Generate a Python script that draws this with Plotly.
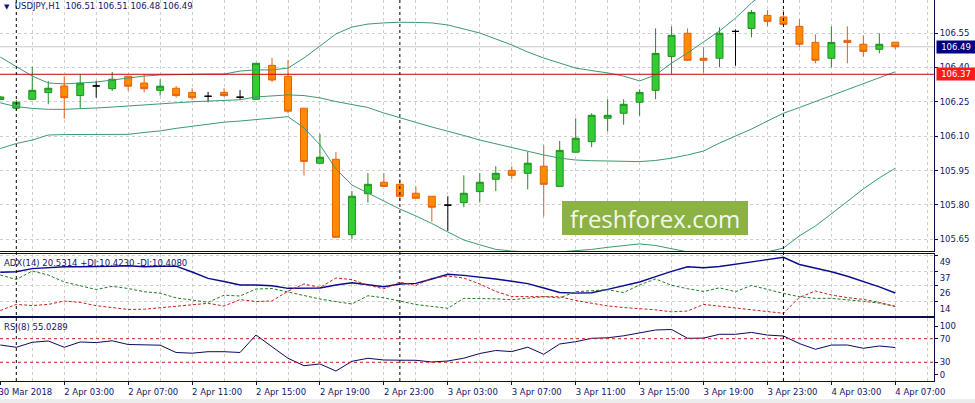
"""
    USDJPY H1 chart: candles + Bollinger bands, ADX(14) and RSI(8) panes
"""
import plotly.graph_objects as go
from plotly.subplots import make_subplots

# ---- data (hourly bars, 30 Mar 2018 23:00 -> 4 Apr 2018 07:00) ----
bar_index = list(range(57))

opens = [106.260, 106.222, 106.261, 106.290, 106.319, 106.277, 106.319, 106.307, 106.361, 106.332,
         106.300, 106.309, 106.291, 106.274, 106.291, 106.270, 106.261, 106.409, 106.361, 106.222,
         105.982, 105.999, 105.670, 105.849, 105.899, 105.890, 105.851, 105.838, 105.799, 105.810,
         105.858, 105.912, 105.951, 105.938, 105.969, 105.881, 106.030, 106.076, 106.178, 106.200,
         106.248, 106.300, 106.448, 106.549, 106.440, 106.440, 106.557, 106.570, 106.627, 106.620,
         106.579, 106.509, 106.440, 106.518, 106.501, 106.479, 106.510]
highs = [106.275, 106.258, 106.403, 106.341, 106.362, 106.370, 106.341, 106.380, 106.362, 106.371,
         106.348, 106.319, 106.309, 106.293, 106.309, 106.301, 106.419, 106.441, 106.432, 106.223,
         106.110, 106.031, 105.861, 105.939, 105.939, 105.912, 105.881, 105.839, 105.838, 105.929,
         105.939, 105.969, 105.969, 106.031, 106.060, 106.079, 106.178, 106.200, 106.261, 106.261,
         106.304, 106.570, 106.579, 106.570, 106.488, 106.575, 106.566, 106.650, 106.650, 106.650,
         106.610, 106.544, 106.579, 106.579, 106.540, 106.549, 106.510]
lows = [106.258, 106.210, 106.259, 106.239, 106.176, 106.222, 106.268, 106.297, 106.298, 106.291,
        106.277, 106.268, 106.258, 106.248, 106.272, 106.259, 106.259, 106.336, 106.200, 105.929,
        105.981, 105.658, 105.650, 105.810, 105.880, 105.817, 105.828, 105.727, 105.687, 105.790,
        105.810, 105.860, 105.912, 105.868, 105.749, 105.880, 106.029, 106.052, 106.120, 106.150,
        106.189, 106.261, 106.373, 106.430, 106.377, 106.400, 106.407, 106.531, 106.579, 106.587,
        106.488, 106.418, 106.400, 106.418, 106.447, 106.461, 106.480]
closes = [106.271, 106.248, 106.300, 106.309, 106.268, 106.331, 106.319, 106.348, 106.318, 106.307,
          106.318, 106.277, 106.268, 106.274, 106.277, 106.270, 106.418, 106.345, 106.209, 105.990,
          106.008, 105.659, 105.838, 105.890, 105.881, 105.838, 105.829, 105.790, 105.799, 105.851,
          105.899, 105.938, 105.929, 105.982, 105.890, 106.038, 106.091, 106.191, 106.191, 106.239,
          106.291, 106.461, 106.540, 106.431, 106.431, 106.549, 106.557, 106.640, 106.601, 106.588,
          106.501, 106.431, 106.509, 106.509, 106.470, 106.501, 106.490]

bb_upper = [106.445, 106.402, 106.362, 106.332, 106.328, 106.332, 106.336, 106.345, 106.354, 106.362,
            106.367, 106.369, 106.371, 106.371, 106.371, 106.384, 106.389, 106.389, 106.397, 106.441,
            106.493, 106.546, 106.576, 106.589, 106.594, 106.597, 106.596, 106.594, 106.585, 106.567,
            106.550, 106.524, 106.498, 106.467, 106.441, 106.419, 106.397, 106.386, 106.376, 106.362,
            106.341, 106.367, 106.419, 106.463, 106.511, 106.559, 106.615, 106.681, 106.738, 106.787,
            106.786, 106.794, 106.790, 106.786, 106.790, 106.794, 106.803]
bb_middle = [106.245, 106.229, 106.221, 106.217, 106.217, 106.219, 106.223, 106.227, 106.232, 106.236,
             106.240, 106.245, 106.250, 106.253, 106.256, 106.259, 106.271, 106.277, 106.280, 106.277,
             106.267, 106.251, 106.238, 106.225, 106.201, 106.179, 106.160, 106.140, 106.123, 106.103,
             106.083, 106.066, 106.049, 106.032, 106.018, 106.004, 105.996, 105.993, 105.992, 105.990,
             105.989, 105.994, 106.004, 106.018, 106.035, 106.070, 106.101, 106.131, 106.166, 106.200,
             106.225, 106.251, 106.275, 106.301, 106.330, 106.356, 106.381]
bb_lower = [106.046, 106.068, 106.083, 106.105, 106.107, 106.107, 106.107, 106.107, 106.108, 106.116,
            106.123, 106.134, 106.144, 106.153, 106.161, 106.166, 106.173, 106.179, 106.185, 106.136,
            106.062, 105.957, 105.887, 105.852, 105.817, 105.782, 105.752, 105.719, 105.682, 105.647,
            105.626, 105.606, 105.599, 105.595, 105.591, 105.595, 105.599, 105.606, 105.615, 105.621,
            105.630, 105.623, 105.608, 105.595, 105.586, 105.582, 105.582, 105.586, 105.595, 105.612,
            105.665, 105.708, 105.761, 105.817, 105.870, 105.918, 105.960]

adx = [36.08, 36.45, 38.86, 39.54, 40.21, 40.29, 40.29, 40.59, 41.04, 40.29,
       40.66, 40.66, 36.30, 31.56, 29.16, 26.53, 26.53, 26.00, 24.04, 24.04,
       24.27, 26.53, 28.26, 26.75, 25.25, 27.28, 27.73, 31.04, 34.57, 33.75,
       32.54, 31.04, 29.31, 27.58, 24.27, 20.89, 20.44, 20.74, 23.29, 26.00,
       28.78, 32.84, 36.83, 40.21, 39.54, 40.44, 42.17, 43.97, 45.85, 47.36,
       41.94, 39.31, 36.53, 33.14, 29.16, 25.10, 20.5314]
plus_di = [34.05, 30.66, 37.05, 34.05, 28.78, 25.77, 23.14, 25.55, 23.89, 21.49,
           20.36, 16.83, 15.25, 13.52, 18.86, 18.25, 23.52, 23.89, 21.26, 18.63,
           16.00, 14.04, 12.24, 18.48, 16.90, 14.49, 11.86, 10.43, 9.00, 16.52,
           16.52, 16.15, 15.47, 16.68, 17.73, 16.83, 21.49, 22.24, 22.99, 20.89,
           26.53, 31.11, 26.30, 23.74, 21.64, 24.42, 21.49, 26.23, 22.99, 20.21,
           17.73, 16.52, 16.52, 15.55, 14.27, 12.92, 10.4230]
minus_di = [7.35, 11.94, 11.11, 11.94, 14.49, 13.44, 10.96, 9.61, 8.18, 8.33,
            9.38, 10.36, 11.56, 12.76, 10.73, 15.55, 14.12, 14.57, 21.94, 27.28,
            24.65, 31.79, 30.59, 26.38, 23.67, 28.71, 26.15, 31.64, 33.22, 31.79,
            27.28, 21.71, 17.88, 17.73, 17.73, 17.73, 14.87, 12.84, 10.81, 9.61,
            8.78, 7.88, 6.37, 6.97, 11.94, 10.66, 9.31, 7.80, 6.30, 5.24,
            17.28, 22.01, 19.01, 17.05, 15.70, 13.44, 10.4080]
rsi = [59.32, 55.42, 63.90, 66.10, 55.42, 64.41, 63.39, 66.44, 60.17, 59.15,
       58.98, 46.61, 45.42, 47.96, 47.96, 46.61, 76.27, 56.27, 36.78, 24.23,
       27.12, 15.25, 31.69, 36.78, 33.90, 33.56, 33.39, 30.51, 32.20, 36.95,
       44.91, 50.00, 48.13, 55.59, 43.56, 61.02, 64.91, 70.68, 71.53, 74.92,
       79.32, 84.75, 85.59, 70.68, 71.02, 77.46, 77.46, 80.68, 76.10, 74.58,
       61.69, 52.03, 59.15, 59.32, 53.73, 57.63, 55.0289]

tick_pos = [0, 4, 8, 12, 16, 20, 24, 28, 32, 36, 40, 44, 48, 52, 56]
tick_text = ['30 Mar 2018', '2 Apr 03:00', '2 Apr 07:00', '2 Apr 11:00', '2 Apr 15:00',
             '2 Apr 19:00', '2 Apr 23:00', '3 Apr 03:00', '3 Apr 07:00', '3 Apr 11:00',
             '3 Apr 15:00', '3 Apr 19:00', '3 Apr 23:00', '4 Apr 03:00', '4 Apr 07:00']
day_starts = [1, 25, 49]          # 2 Apr, 3 Apr, 4 Apr 00:00
price_ticks = [106.70, 106.55, 106.40, 106.25, 106.10, 105.95, 105.80, 105.65]
level_price = 106.37
adx_ticks = [49, 37, 26, 14]
rsi_levels = [70, 30]

# ---- styles ----
navy = '#14146b'
frame = '#0c0c4a'
grid = '#cfcfcf'
band_color = '#3d9970'
font_fam = 'DejaVu Sans'


def main():
    fig = make_subplots(rows=3, cols=1, shared_xaxes=True, vertical_spacing=0.01)

    # candles, doji drawn separately in black
    normal = [i for i in bar_index if opens[i] != closes[i]]
    doji = [i for i in bar_index if opens[i] == closes[i]]
    pick = lambda arr, idx: [arr[i] for i in idx]

    fig.add_trace(go.Candlestick(
        x=pick(bar_index, normal), open=pick(opens, normal), high=pick(highs, normal),
        low=pick(lows, normal), close=pick(closes, normal), whiskerwidth=0,
        increasing=dict(fillcolor='#32cd32', line=dict(color='#1f8f1f', width=1)),
        decreasing=dict(fillcolor='#ff8c00', line=dict(color='#e8600c', width=1)),
        hoverinfo='skip'), row=1, col=1)
    fig.add_trace(go.Candlestick(
        x=pick(bar_index, doji), open=pick(opens, doji), high=pick(highs, doji),
        low=pick(lows, doji), close=pick(closes, doji), whiskerwidth=0,
        increasing=dict(fillcolor='black', line=dict(color='black', width=1)),
        decreasing=dict(fillcolor='black', line=dict(color='black', width=1)),
        hoverinfo='skip'), row=1, col=1)

    for band in (bb_upper, bb_middle, bb_lower):
        fig.add_trace(go.Scatter(x=bar_index, y=band, mode='lines',
                                 line=dict(color=band_color, width=1)), row=1, col=1)

    # ADX pane
    fig.add_trace(go.Scatter(x=bar_index, y=adx, mode='lines',
                             line=dict(color='#0a0a8c', width=1.4)), row=2, col=1)
    fig.add_trace(go.Scatter(x=bar_index, y=plus_di, mode='lines',
                             line=dict(color='#1f7a1f', width=1, dash='3px,2px')), row=2, col=1)
    fig.add_trace(go.Scatter(x=bar_index, y=minus_di, mode='lines',
                             line=dict(color='#c81e1e', width=1, dash='3px,2px')), row=2, col=1)

    # RSI pane
    fig.add_trace(go.Scatter(x=bar_index, y=rsi, mode='lines',
                             line=dict(color='#0a0a5c', width=1)), row=3, col=1)

    # axes
    x_range = [-0.02, 58.42]
    grid_pos = list(range(0, 59, 2))
    for r in (1, 2, 3):
        fig.update_xaxes(range=x_range, tickvals=tick_pos, ticktext=tick_text,
                         showgrid=True, gridcolor=grid, griddash='3px,3px', gridwidth=1,
                         minor=dict(tickvals=grid_pos, showgrid=True, gridcolor=grid,
                                    griddash='3px,3px', ticks=''),
                         showline=True, mirror=True, linecolor=frame, linewidth=1,
                         zeroline=False, showticklabels=(r == 3), automargin=False,
                         ticks='outside' if r == 3 else '', ticklen=3, tickcolor=frame,
                         tickangle=0, ticklabelshift=25, ticklabeloverflow='allow',
                         row=r, col=1)
    fig.update_xaxes(rangeslider_visible=False)

    fig.update_yaxes(side='right', showline=True, linecolor=frame, linewidth=1, automargin=False,
                     ticks='outside', ticklen=3, tickcolor=frame, zeroline=False,
                     ticklabeloverflow='allow')
    fig.update_yaxes(range=[105.599, 106.694], tickvals=price_ticks,
                     ticktext=['%.2f' % p for p in price_ticks],
                     showgrid=True, gridcolor=grid, griddash='3px,3px', row=1, col=1)
    # ADX labels sit just below their grid lines
    fig.update_yaxes(range=[3.0, 50.06], tickvals=adx_ticks, ticklabelshift=7,
                     showgrid=True, gridcolor=grid, griddash='3px,3px', row=2, col=1)
    # MT4 keeps the 100 / 0 labels inside the pane
    fig.update_yaxes(range=[-1.7, 105.1], tickvals=[91.5, 70, 30, 8.5],
                     ticktext=['100', '70', '30', '0'], showgrid=False, row=3, col=1)

    fig.update_layout(yaxis=dict(domain=[0.3412, 1.0]),
                      yaxis2=dict(domain=[0.1698, 0.3341]),
                      yaxis3=dict(domain=[0.0, 0.1654]))

    # horizontal lines, separators, levels
    shapes = []
    shapes.append(dict(type='line', xref='paper', x0=0, x1=1, yref='y', y0=closes[-1], y1=closes[-1],
                       line=dict(color='#c8c8c8', width=1), layer='below'))
    shapes.append(dict(type='line', xref='paper', x0=0, x1=1, yref='y', y0=level_price, y1=level_price,
                       line=dict(color='#c80000', width=1)))
    for d in day_starts:
        shapes.append(dict(type='line', xref='x', x0=d, x1=d, yref='paper', y0=0, y1=1,
                           line=dict(color='black', width=1, dash='3px,3px')))
    for lv in rsi_levels:
        shapes.append(dict(type='line', xref='paper', x0=0, x1=1, yref='y3', y0=lv, y1=lv,
                           line=dict(color='#c81e1e', width=1, dash='3px,3px')))
    # watermark box
    shapes.append(dict(type='rect', xref='paper', yref='paper', x0=0.6017, x1=0.8009,
                       y0=0.3832, y1=0.4724, fillcolor='#8cb244', line=dict(width=0), layer='above'))
    # window bottom strip
    shapes.append(dict(type='rect', xref='paper', yref='paper', x0=0, x1=1.045,
                       y0=-0.058, y1=-0.0472, fillcolor='#ececec', line=dict(width=0)))

    nb = '\u00a0'
    annotations = [
        dict(xref='paper', yref='paper', x=0, y=1, xshift=2, yshift=1, xanchor='left', yanchor='top',
             showarrow=False, align='left', font=dict(size=8.5, color=navy),
             text="<span style='font-size:7px'>\u25bc</span>" + nb * 2 + 'USDJPY,H1' + nb * 2 +
                  ' '.join('%.2f' % v for v in (opens[-1], highs[-1], lows[-1], closes[-1]))),
        dict(xref='paper', yref='y2 domain', x=0, y=1, xshift=2, yshift=-2, xanchor='left',
             yanchor='top', showarrow=False, font=dict(size=8.5, color=navy),
             text='ADX(14) %.4f +DI:%.4f -DI:%.4f' % (adx[-1], plus_di[-1], minus_di[-1])),
        dict(xref='paper', yref='y3 domain', x=0, y=1, xshift=2, yshift=-2, xanchor='left',
             yanchor='top', showarrow=False, font=dict(size=8.5, color=navy),
             text='RSI(8) %.4f' % rsi[-1]),
        dict(xref='paper', yref='y', x=1, y=closes[-1], xshift=2, xanchor='left', yanchor='middle',
             showarrow=False, text='%.2f' % closes[-1], bgcolor='#000080', width=36, height=10,
             font=dict(size=8.5, color='white')),
        dict(xref='paper', yref='y', x=1, y=level_price, xshift=2, xanchor='left', yanchor='middle',
             showarrow=False, text='%.2f' % level_price, bgcolor='#ff1a1a', width=36, height=10,
             font=dict(size=8.5, color='white')),
        dict(xref='paper', yref='paper', x=0.7013, y=0.4278, xanchor='center', yanchor='middle',
             showarrow=False, text='freshforex.com',
             font=dict(family='Open Sans', size=24, color='#f4f8ec')),
    ]

    fig.update_layout(width=975, height=403, margin=dict(l=0, r=41, t=0, b=22),
                      paper_bgcolor='white', plot_bgcolor='white', showlegend=False,
                      font=dict(family=font_fam, size=8.5, color=navy),
                      boxgap=0.38, shapes=shapes, annotations=annotations,
                      hovermode=False)

    # the page's default 8px body margin would push the chart off the window
    fig.write_html('out.html', config={'displayModeBar': False},
                   post_script="document.body.style.margin='0px';")


if __name__ == "__main__":
    main()
